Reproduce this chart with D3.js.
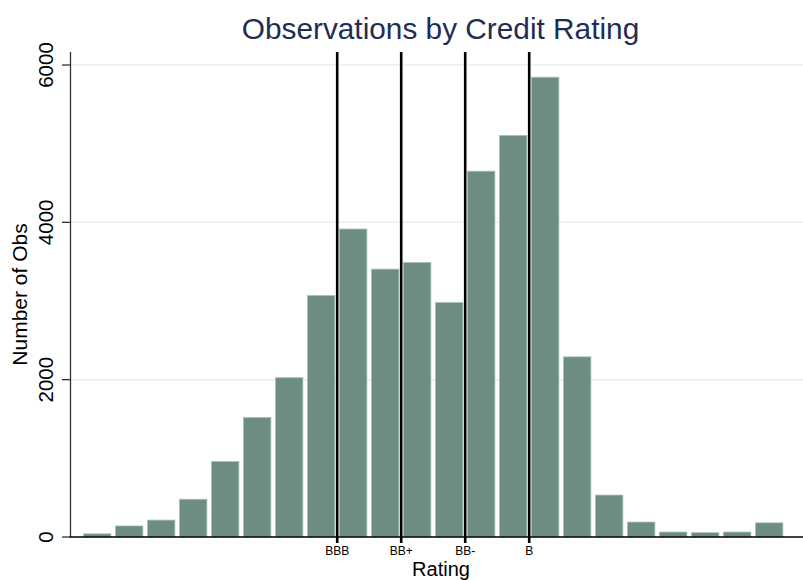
<!DOCTYPE html>
<html lang="en">
<head>
<meta charset="UTF-8">
<title>Observations by Credit Rating</title>
<script src="https://d3js.org/d3.v7.min.js"></script>
<style>
    body { margin: 0; background: #fff; font-family: "Liberation Sans", Arial, sans-serif; }
    svg { display: block; }
</style>
</head>
<body>
<svg id="chart"></svg>
<script>
// rating bins: bar k covers [k, k+1)
const ratings = d3.range(1, 23);
const counts = [40, 140, 215, 480, 960, 1520, 2025, 3070, 3915, 3405, 3490, 2980,
                4650, 5105, 5845, 2290, 533, 190, 63, 55, 63, 180];
const refRatings = [9, 11, 13, 15];
const refLabels = ["BBB", "BB+", "BB-", "B"];
const yTicks = [0, 2000, 4000, 6000];

const width = 803, height = 580;
const svg = d3.select("#chart").attr("width", width).attr("height", height);

const plotLeft = 70.5, plotRight = 803, plotTop = 52, plotBottom = 537;

const x = d3.scaleLinear().domain([1, 23]).range([81.2, 785.2]);
const y = d3.scaleLinear().domain([0, 6000]).range([plotBottom, 65]);

// gridlines
svg.append("g").selectAll("line")
    .data(yTicks.filter(d => d > 0))
    .join("line")
    .attr("x1", plotLeft).attr("x2", plotRight)
    .attr("y1", d => y(d)).attr("y2", d => y(d))
    .attr("stroke", "#e9efef").attr("stroke-width", 1.5);

// bars
svg.append("g").selectAll("rect")
    .data(ratings)
    .join("rect")
    .attr("x", (d) => x(d) + 2.3)
    .attr("width", (d) => x(d + 1) - x(d) - 4.6)
    .attr("y", (d, i) => y(counts[i]))
    .attr("height", (d, i) => plotBottom - y(counts[i]))
    .attr("fill", "#6e8d82")
    .attr("stroke", "#a9bfb6")
    .attr("stroke-width", 0.8);

// reference lines
svg.append("g").selectAll("line")
    .data(refRatings)
    .join("line")
    .attr("x1", d => x(d)).attr("x2", d => x(d))
    .attr("y1", plotTop).attr("y2", plotBottom + 6)
    .attr("stroke", "#000").attr("stroke-width", 2.6);

// y axis
svg.append("line")
    .attr("x1", plotLeft).attr("x2", plotLeft)
    .attr("y1", plotTop).attr("y2", plotBottom)
    .attr("stroke", "#333").attr("stroke-width", 1.3);
svg.append("g").selectAll("line")
    .data(yTicks)
    .join("line")
    .attr("x1", plotLeft - 8.5).attr("x2", plotLeft)
    .attr("y1", d => y(d)).attr("y2", d => y(d))
    .attr("stroke", "#333").attr("stroke-width", 1.3);
svg.append("g").selectAll("text")
    .data(yTicks)
    .join("text")
    .attr("transform", d => `translate(52.5,${y(d)}) rotate(-90)`)
    .attr("text-anchor", "middle")
    .attr("font-size", 20.5)
    .attr("fill", "#000")
    .text(d => d);

// x axis
svg.append("line")
    .attr("x1", plotLeft - 1).attr("x2", plotRight)
    .attr("y1", plotBottom).attr("y2", plotBottom)
    .attr("stroke", "#000").attr("stroke-width", 1.5);
svg.append("g").selectAll("text")
    .data(refRatings)
    .join("text")
    .attr("x", d => x(d))
    .attr("y", 554.5)
    .attr("text-anchor", "middle")
    .attr("font-size", 12)
    .attr("fill", "#000")
    .text((d, i) => refLabels[i]);

// axis titles
svg.append("text")
    .attr("transform", `translate(27,${(plotTop + plotBottom) / 2}) rotate(-90)`)
    .attr("text-anchor", "middle")
    .attr("font-size", 21)
    .text("Number of Obs");
svg.append("text")
    .attr("x", 441).attr("y", 576)
    .attr("text-anchor", "middle")
    .attr("font-size", 20)
    .text("Rating");

// title
svg.append("text")
    .attr("x", 440.5).attr("y", 39)
    .attr("text-anchor", "middle")
    .attr("font-size", 29.8)
    .attr("fill", "#1f2d54")
    .text("Observations by Credit Rating");
</script>
</body>
</html>
